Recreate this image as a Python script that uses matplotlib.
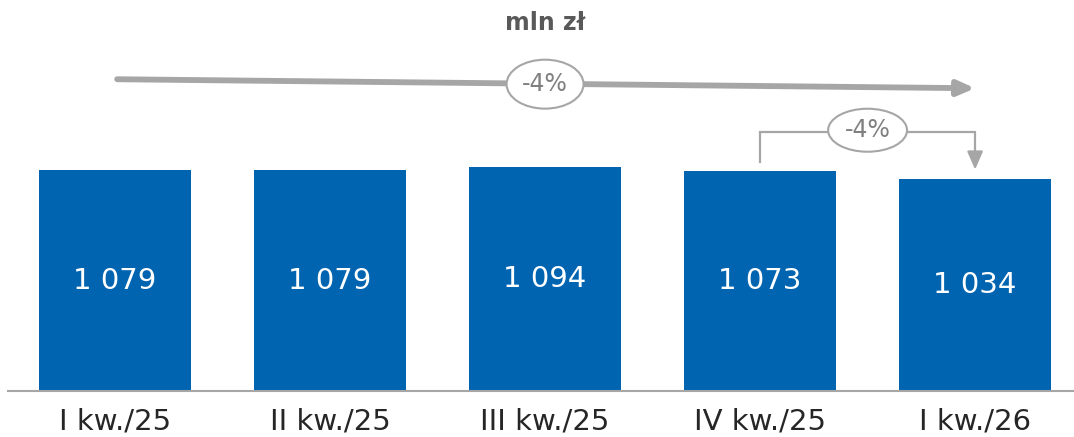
import matplotlib.pyplot as plt
from matplotlib.patches import Ellipse

# data
quarters = ["I kw./25", "II kw./25", "III kw./25", "IV kw./25", "I kw./26"]
values = [1079, 1079, 1094, 1073, 1034]
unit = "mln zł"

blue = "#0064b0"
grey = "#a6a6a6"
txt_grey = "#808080"

def fmt(v):
    return f"{v:,}".replace(",", " ")

def pct(a, b):
    return f"{round((b / a - 1) * 100):d}%"

fig = plt.figure(figsize=(10.74, 4.37), dpi=100)
ax = fig.add_axes([0, 0.105, 1, 0.895])

x = list(range(len(values)))
ax.bar(x, values, width=0.707, color=blue, zorder=2)
for i, v in enumerate(values):
    ax.text(i, v / 2, fmt(v), ha="center", va="center", color="white",
            fontsize=21, zorder=3)

ax.set_xlim(-0.535, 4.46)
ax.set_ylim(0, 1910)
ax.set_xticks(x)
ax.set_xticklabels(quarters, fontsize=21, color="#262626")
ax.tick_params(axis="x", length=0, pad=12)
ax.set_yticks([])
for s in ["top", "left", "right"]:
    ax.spines[s].set_visible(False)
ax.spines["bottom"].set_color(grey)
ax.spines["bottom"].set_linewidth(1.5)
ax.spines["bottom"].set_bounds(-0.5, 4.46)

# title
ax.text(2, 1800, unit, ha="center", va="center", fontsize=17,
        fontweight="bold", color="#595959")

# long arrow first -> last
ax.annotate("", xy=(x[-1], 1479), xytext=(x[0] + 0.01, 1523),
            arrowprops=dict(arrowstyle="-|>,head_length=0.5,head_width=0.22",
                            color=grey, lw=4.2, shrinkA=0, shrinkB=0,
                            mutation_scale=20), zorder=1)
ax.add_patch(Ellipse((2, 1499), 0.358, 239, facecolor="white",
                     edgecolor=grey, lw=1.5, zorder=4))
ax.text(2, 1499, pct(values[0], values[-1]), ha="center", va="center",
        fontsize=17, color=txt_grey, zorder=5)

# bracket last two
top = 1265
ax.plot([x[-2], x[-2], x[-1], x[-1]],
        [values[-2] + 45, top, top, values[-1] + 125],
        color=grey, lw=1.6, zorder=1, solid_joinstyle="miter")
ax.annotate("", xy=(x[-1], values[-1] + 48), xytext=(x[-1], values[-1] + 130),
            arrowprops=dict(arrowstyle="-|>,head_length=0.55,head_width=0.24",
                            color=grey, lw=1.6, shrinkA=0, shrinkB=0,
                            mutation_scale=20), zorder=1)
ax.add_patch(Ellipse((3.5, 1274), 0.367, 210, facecolor="white",
                     edgecolor=grey, lw=1.5, zorder=4))
ax.text(3.5, 1274, pct(values[-2], values[-1]), ha="center", va="center",
        fontsize=17, color=txt_grey, zorder=5)

fig.savefig("out.png", dpi=100)
